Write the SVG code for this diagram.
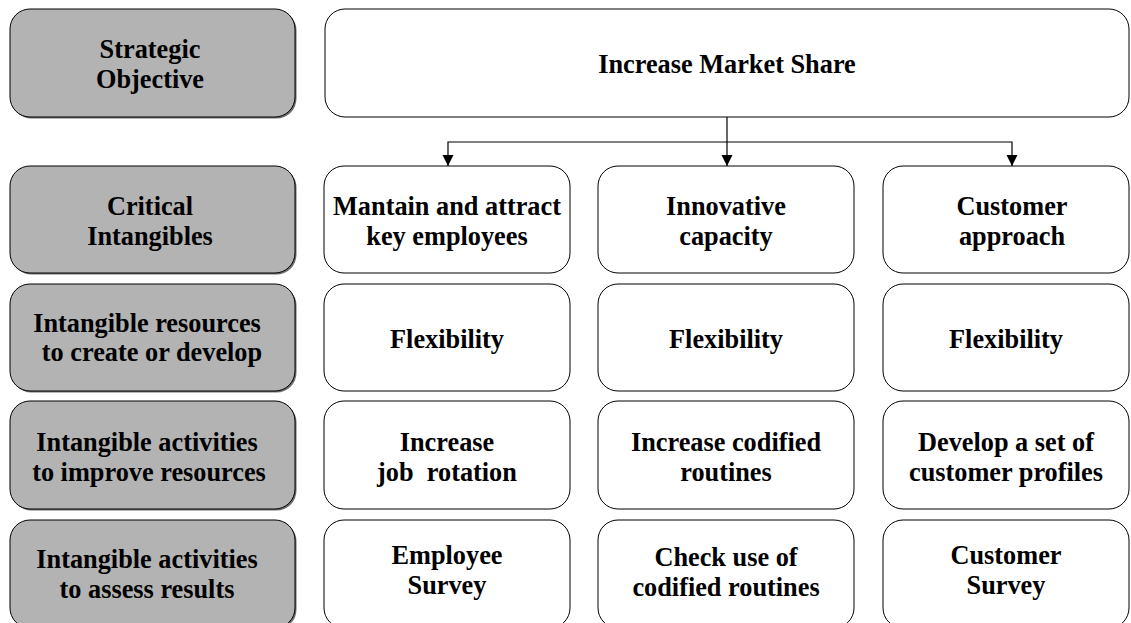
<svg xmlns="http://www.w3.org/2000/svg" width="1131" height="623" viewBox="0 0 1131 623">
<style>
.lbl rect.b{fill:#b3b3b3;stroke:#000;stroke-width:1}
.lbl rect.s{fill:#6e6e6e}
.box rect{fill:#fff;stroke:#000;stroke-width:1}
text{font-family:"Liberation Serif","Times New Roman",serif;font-weight:bold;font-size:26.3px;fill:#000;text-anchor:middle;white-space:pre}
.conn path{fill:none;stroke:#000;stroke-width:1.2}
</style>
<defs>
<marker id="ah" markerWidth="12" markerHeight="12" refX="11" refY="5.5" orient="auto" markerUnits="userSpaceOnUse">
<path d="M0,0 L11,5.5 L0,11 Z" fill="#000"/>
</marker>
</defs>
<rect width="1131" height="623" fill="#fff"/>

<g id="lbl-strategic" class="lbl">
<rect class="s" x="11.5" y="10.5" width="285" height="108" rx="20"/>
<rect class="b" x="10" y="9" width="285" height="108" rx="20"/>
<text x="150" y="58">Strategic</text>
<text x="150" y="88">Objective</text>
</g>
<g id="lbl-critical" class="lbl">
<rect class="s" x="11.5" y="167.5" width="285" height="107" rx="20"/>
<rect class="b" x="10" y="166" width="285" height="107" rx="20"/>
<text x="150" y="215">Critical</text>
<text x="150" y="245">Intangibles</text>
</g>
<g id="lbl-resources" class="lbl">
<rect class="s" x="11.5" y="285.5" width="285" height="107" rx="20"/>
<rect class="b" x="10" y="284" width="285" height="107" rx="20"/>
<text x="147" y="332">Intangible resources</text>
<text x="152" y="361">to create or develop</text>
</g>
<g id="lbl-improve" class="lbl">
<rect class="s" x="11.5" y="402.5" width="285" height="108" rx="20"/>
<rect class="b" x="10" y="401" width="285" height="108" rx="20"/>
<text x="147" y="451">Intangible activities</text>
<text x="149" y="481">to improve resources</text>
</g>
<g id="lbl-assess" class="lbl">
<rect class="s" x="11.5" y="521.5" width="285" height="108" rx="20"/>
<rect class="b" x="10" y="520" width="285" height="108" rx="20"/>
<text x="147" y="568">Intangible activities</text>
<text x="147" y="598">to assess results</text>
</g>

<g id="objective" class="box">
<rect x="325" y="9" width="804" height="108" rx="20"/>
<text x="727" y="73">Increase Market Share</text>
</g>

<g id="ci-employees" class="box">
<rect x="324" y="166" width="246" height="107" rx="20"/>
<text x="447" y="215">Mantain and attract</text>
<text x="447" y="245">key employees</text>
</g>
<g id="ci-innovative" class="box">
<rect x="598" y="166" width="256" height="107" rx="20"/>
<text x="726" y="215">Innovative</text>
<text x="726" y="245">capacity</text>
</g>
<g id="ci-customer" class="box">
<rect x="883" y="166" width="246" height="107" rx="20"/>
<text x="1012" y="215">Customer</text>
<text x="1012" y="245">approach</text>
</g>

<g id="res-1" class="box">
<rect x="324" y="284" width="246" height="107" rx="20"/>
<text x="447" y="348">Flexibility</text>
</g>
<g id="res-2" class="box">
<rect x="598" y="284" width="256" height="107" rx="20"/>
<text x="726" y="348">Flexibility</text>
</g>
<g id="res-3" class="box">
<rect x="883" y="284" width="246" height="107" rx="20"/>
<text x="1006" y="348">Flexibility</text>
</g>

<g id="act-1" class="box">
<rect x="324" y="401" width="246" height="108" rx="20"/>
<text x="447" y="451">Increase</text>
<text x="447" y="481">job  rotation</text>
</g>
<g id="act-2" class="box">
<rect x="598" y="401" width="256" height="108" rx="20"/>
<text x="726" y="451">Increase codified</text>
<text x="726" y="481">routines</text>
</g>
<g id="act-3" class="box">
<rect x="883" y="401" width="246" height="108" rx="20"/>
<text x="1006" y="451">Develop a set of</text>
<text x="1006" y="481">customer profiles</text>
</g>

<g id="assess-1" class="box">
<rect x="324" y="520" width="246" height="108" rx="20"/>
<text x="447" y="564">Employee</text>
<text x="447" y="594">Survey</text>
</g>
<g id="assess-2" class="box">
<rect x="598" y="520" width="256" height="108" rx="20"/>
<text x="726" y="566">Check use of</text>
<text x="726" y="596">codified routines</text>
</g>
<g id="assess-3" class="box">
<rect x="883" y="520" width="246" height="108" rx="20"/>
<text x="1006" y="564">Customer</text>
<text x="1006" y="594">Survey</text>
</g>

<g id="connectors" class="conn">
<path d="M727,117 V166" marker-end="url(#ah)"/>
<path d="M727,142 H448 V166" marker-end="url(#ah)"/>
<path d="M727,142 H1012 V166" marker-end="url(#ah)"/>
</g>
</svg>
